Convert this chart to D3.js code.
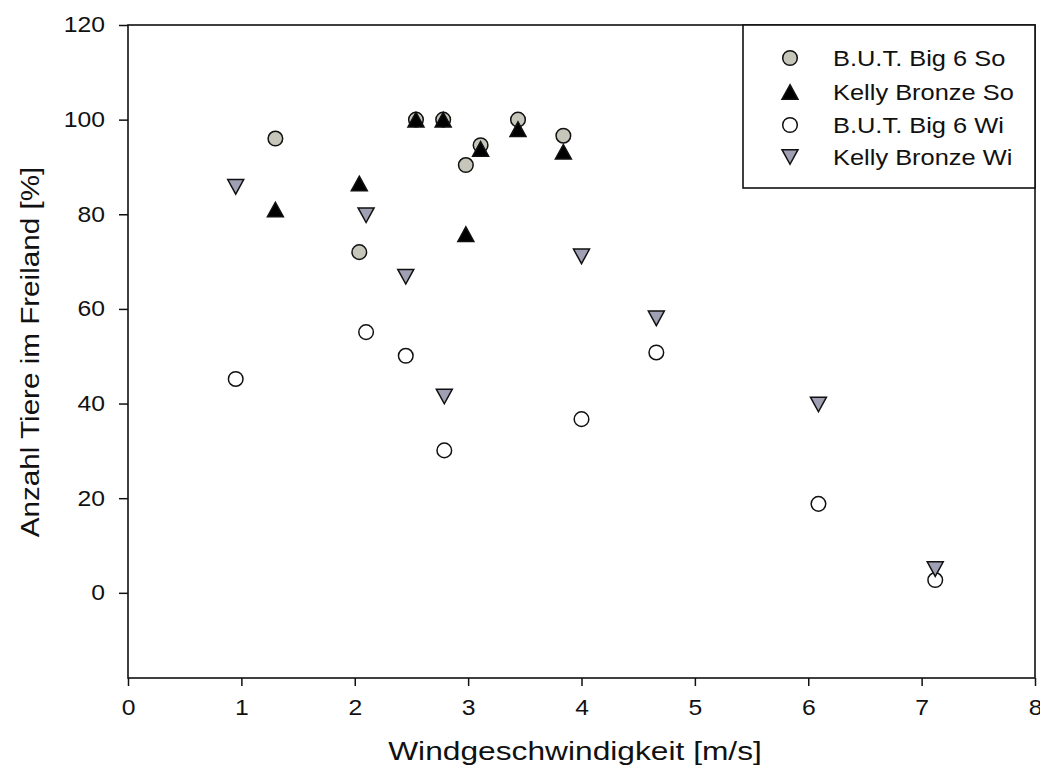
<!DOCTYPE html>
<html><head><meta charset="utf-8">
<script src="https://cdn.jsdelivr.net/npm/d3@7"></script>
<style>body{margin:0;background:#fff}svg text{font-family:"Liberation Sans",Arial,sans-serif;fill:#111}</style>
</head><body><svg id="c" width="1040" height="783"></svg>
<script>
const butSoX = [1.30, 2.04, 2.54, 2.78, 2.98, 3.11, 3.44, 3.84];
const butSoY = [96, 72, 100, 100, 90.4, 94.6, 100, 96.6];
const kellySoX = [1.30, 2.04, 2.54, 2.78, 2.98, 3.11, 3.44, 3.84];
const kellySoY = [81, 86.5, 100, 100, 75.8, 93.8, 98, 93.2];
const butWiX = [0.95, 2.10, 2.45, 2.79, 4.00, 4.66, 6.09, 7.12];
const butWiY = [45.2, 55.1, 50.1, 30.1, 36.7, 50.8, 18.8, 2.7];
const kellyWiX = [0.95, 2.10, 2.45, 2.79, 4.00, 4.66, 6.09, 7.12];
const kellyWiY = [85.8, 79.8, 66.8, 41.5, 71.1, 58, 39.8, 5];
const seriesNames = ["B.U.T. Big 6 So", "Kelly Bronze So", "B.U.T. Big 6 Wi", "Kelly Bronze Wi"];
const xTicks = [0,1,2,3,4,5,6,7,8];
const yTicks = [0,20,40,60,80,100,120];
const xTitle = "Windgeschwindigkeit [m/s]";
const yTitle = "Anzahl Tiere im Freiland [%]";

const series = [
  {name: seriesNames[0], xs: butSoX, ys: butSoY, shape: "circle", fill: "#c6c6ba"},
  {name: seriesNames[1], xs: kellySoX, ys: kellySoY, shape: "up", fill: "#000"},
  {name: seriesNames[2], xs: butWiX, ys: butWiY, shape: "circle", fill: "#fff"},
  {name: seriesNames[3], xs: kellyWiX, ys: kellyWiY, shape: "down", fill: "#a0a0b5"}
];

const svg = d3.select("#c");
const L = 128, R = 1035, T = 25, B = 678;
const x = d3.scaleLinear().domain([0, 8]).range([L, R]);
const y = d3.scaleLinear().domain([-18, 120]).range([B, T]);
const SX = 1.15;

// frame
svg.append("rect").attr("x", L).attr("y", T).attr("width", R - L).attr("height", B - T)
  .attr("fill", "none").attr("stroke", "#111").attr("stroke-width", 1.6);

const gx = svg.append("g").attr("transform", `translate(0,${B})`)
  .call(d3.axisBottom(x).tickValues(xTicks).tickFormat(d3.format("d")).tickSize(8).tickPadding(14));
gx.select(".domain").remove();
gx.selectAll("line").attr("stroke", "#111").attr("stroke-width", 1.5);
gx.selectAll("text").attr("font-size", 21.5).attr("fill", "#111")
  .attr("transform", `scale(${SX},1)`).attr("x", 0);

const gy = svg.append("g").attr("transform", `translate(${L},0)`)
  .call(d3.axisLeft(y).tickValues(yTicks).tickFormat(d3.format("d")).tickSize(9).tickPadding(12));
gy.select(".domain").remove();
gy.selectAll("line").attr("stroke", "#111").attr("stroke-width", 1.5);
gy.selectAll("text").attr("font-size", 21.5).attr("fill", "#111")
  .attr("x", 0).attr("transform", `translate(-23,0) scale(${SX},1)`);

// titles
svg.append("text").attr("font-size", 26).attr("text-anchor", "middle")
  .attr("transform", `translate(575,760) scale(1.22,1)`).text(xTitle);
svg.append("text").attr("font-size", 26).attr("text-anchor", "middle")
  .attr("transform", `translate(39,352) rotate(-90) scale(1.14,1)`).text(yTitle);

function shapePath(shape) {
  if (shape === "circle") return d3.symbol().type(d3.symbolCircle).size(Math.PI * 7.3 * 7.3)();
  if (shape === "up") return "M0,-7.3L8,7.3L-8,7.3Z";
  return "M-8,-7.3L8,-7.3L0,7.3Z";
}

const plot = svg.append("g");
series.forEach(s => {
  plot.selectAll(null).data(s.xs.map((v, i) => [v, s.ys[i]])).enter().append("path")
    .attr("d", shapePath(s.shape))
    .attr("transform", d => `translate(${x(d[0])},${y(d[1])})`)
    .attr("fill", s.fill).attr("stroke", "#111").attr("stroke-width", 1.5);
});

// legend
const lg = svg.append("g");
lg.append("rect").attr("x", 743).attr("y", T).attr("width", R - 743).attr("height", 188 - T)
  .attr("fill", "#fff").attr("stroke", "#111").attr("stroke-width", 1.6);
const rows = [58, 92, 125, 157];
series.forEach((s, i) => {
  lg.append("path").attr("d", shapePath(s.shape)).attr("transform", `translate(790,${rows[i]})`)
    .attr("fill", s.fill).attr("stroke", "#111").attr("stroke-width", 1.5);
  lg.append("text").attr("font-size", 22.5).attr("dominant-baseline", "central")
    .attr("transform", `translate(833,${rows[i]}) scale(1.13,1)`).text(s.name);
});
</script></body></html>
